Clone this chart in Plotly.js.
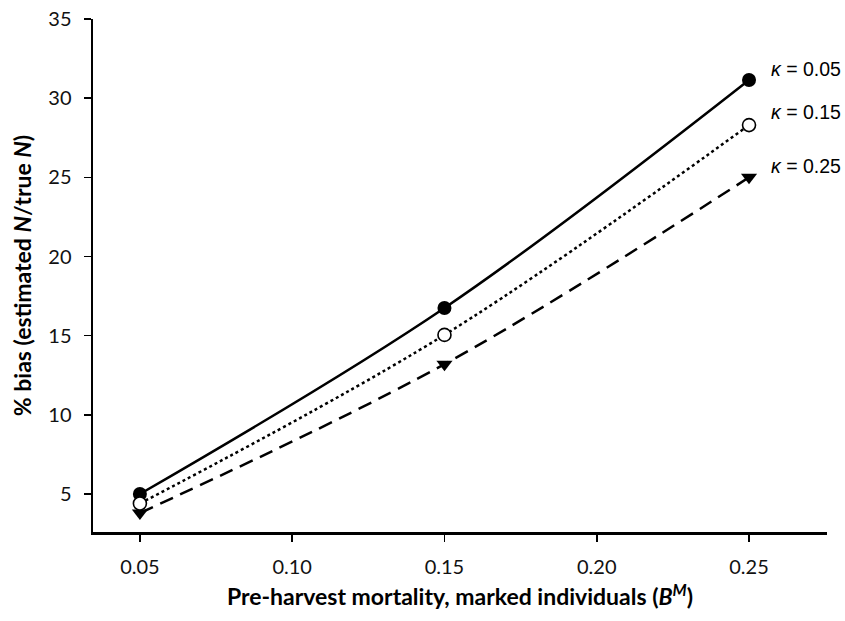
<!DOCTYPE html>
<html>
<head>
<meta charset="utf-8">
<script src="https://cdn.plot.ly/plotly-3.0.1.min.js"></script>
<style>html,body{margin:0;padding:0;background:#fff;}#chart{width:845px;height:621px;}</style>
</head>
<body>
<div id="chart"></div>
<script>
var xVals = [0.05, 0.15, 0.25];
var kappa005 = [5.0, 16.75, 31.15];
var kappa015 = [4.4, 15.05, 28.3];
var kappa025 = [3.8, 13.2, 25.0];
var seriesLabels = ['<i>κ</i> = 0.05', '<i>κ</i> = 0.15', '<i>κ</i> = 0.25'];
var xTicks = [0.05, 0.10, 0.15, 0.20, 0.25];
var xTickText = ['0.05', '0.10', '0.15', '0.20', '0.25'];
var yTicks = [5, 10, 15, 20, 25, 30, 35];

var traces = [
  {x: xVals, y: kappa005, mode: 'lines+markers', name: seriesLabels[0],
   line: {color: '#000', width: 2.5, shape: 'spline', dash: 'solid'},
   marker: {symbol: 'circle', size: 14, color: '#000'}},
  {x: xVals, y: kappa025, mode: 'lines+markers', name: seriesLabels[2],
   line: {color: '#000', width: 2.5, shape: 'spline', dash: '14px,8px'},
   marker: {symbol: 'triangle-down', size: 14, color: '#000'}},
  {x: xVals, y: kappa015, mode: 'lines+markers', name: seriesLabels[1],
   line: {color: '#000', width: 2.5, shape: 'spline', dash: 'dot'},
   marker: {symbol: 'circle', size: 13, color: '#fff', line: {color: '#000', width: 1.6}}}
];

var layout = {
  width: 845, height: 621,
  margin: {l: 93, r: 18, t: 19, b: 89},
  paper_bgcolor: '#fff', plot_bgcolor: '#fff',
  showlegend: false,
  font: {family: 'Lato, "Open Sans", sans-serif', color: '#111', size: 20},
  xaxis: {
    range: [0.0346, 0.2756],
    tickvals: xTicks, ticktext: xTickText,
    showgrid: false, zeroline: false,
    showline: true, linecolor: '#000', linewidth: 2.5,
    ticks: 'outside', ticklen: 7, tickwidth: 1.5, tickcolor: '#000',
    ticklabelstandoff: 8,
    tickfont: {size: 20},
    title: {text: '<b>Pre-harvest mortality, marked individuals (<i>B</i><sup><i>M</i></sup>)</b>',
            font: {size: 23, color: '#000'}, standoff: 13}
  },
  yaxis: {
    range: [2.6, 35],
    tickvals: yTicks,
    showgrid: false, zeroline: false,
    showline: true, linecolor: '#000', linewidth: 2.5,
    ticks: 'outside', ticklen: 7, tickwidth: 1.5, tickcolor: '#000',
    ticklabelstandoff: 8,
    tickfont: {size: 20},
    title: {text: '<b>% bias (estimated <i>N</i>/true <i>N</i>)</b>',
            font: {size: 23, color: '#000'}, standoff: 10}
  },
  annotations: [
    {x: xVals[2], y: kappa005[2], xref: 'x', yref: 'y', text: seriesLabels[0], showarrow: false,
     xanchor: 'left', yanchor: 'middle', xshift: 20, yshift: 11,
     font: {family: '"Liberation Sans", Arial, sans-serif', size: 19.5, color: '#000'}},
    {x: xVals[2], y: kappa015[2], xref: 'x', yref: 'y', text: seriesLabels[1], showarrow: false,
     xanchor: 'left', yanchor: 'middle', xshift: 20, yshift: 13,
     font: {family: '"Liberation Sans", Arial, sans-serif', size: 19.5, color: '#000'}},
    {x: xVals[2], y: kappa025[2], xref: 'x', yref: 'y', text: seriesLabels[2], showarrow: false,
     xanchor: 'left', yanchor: 'middle', xshift: 20, yshift: 11,
     font: {family: '"Liberation Sans", Arial, sans-serif', size: 19.5, color: '#000'}}
  ]
};

Plotly.newPlot('chart', traces, layout, {displayModeBar: false, staticPlot: true});
</script>
</body>
</html>
